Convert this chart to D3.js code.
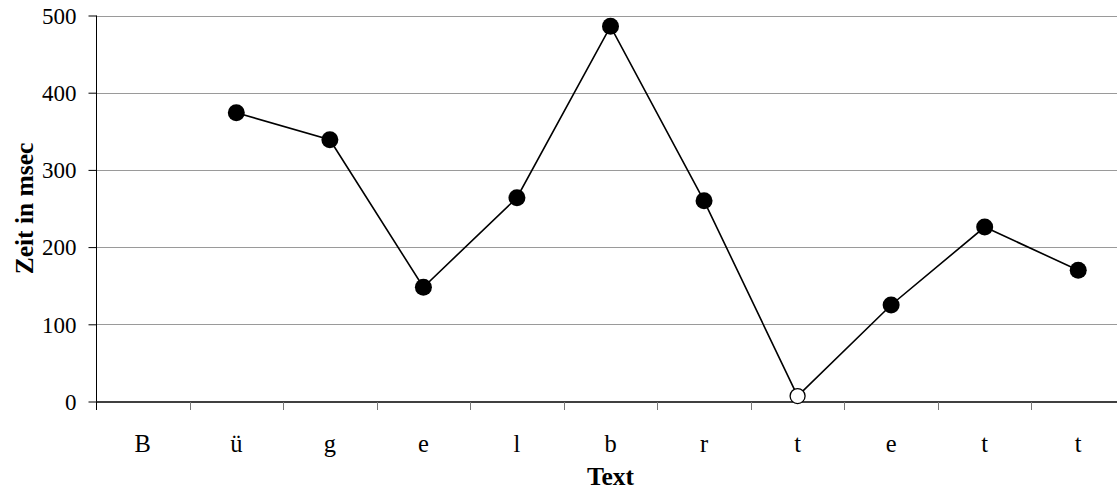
<!DOCTYPE html>
<html><head><meta charset="utf-8">
<script src="https://cdn.jsdelivr.net/npm/d3@7"></script>
<style>
html,body{margin:0;padding:0;background:#fff;overflow:hidden}
svg{display:block;font-family:"Liberation Serif","Times New Roman",serif}
</style></head>
<body>
<svg id="chart" width="1117" height="492"></svg>
<script>
const categories = ["B","ü","g","e","l","b","r","t","e","t","t"];
const values = [null,374,339,148,264,486,260,7,125,226,170];
const hollow = [false,false,false,false,false,false,false,true,false,false,false];
const yTicks = [0,100,200,300,400,500];
const xTitle = "Text";
const yTitle = "Zeit in msec";

const svg = d3.select("#chart");
const idx = d3.range(categories.length);
const x = d3.scaleBand().domain(idx).range([96,1125]);
const y = d3.scaleLinear().domain([0,500]).range([401.5,15.5]);

// gridlines
svg.append("g").selectAll("line").data(yTicks.filter(d=>d>0)).join("line")
  .attr("x1",96).attr("x2",1117)
  .attr("y1",d=>Math.round(y(d))+0.5).attr("y2",d=>Math.round(y(d))+0.5)
  .attr("stroke","#9a9a9a").attr("stroke-width",1);

// y axis
const ya = svg.append("g").attr("transform","translate(96.5,0)")
  .call(d3.axisLeft(y).tickValues(yTicks).tickSize(8).tickPadding(12).tickFormat(d3.format("d")));
ya.select(".domain").attr("stroke","#000").attr("d","M0,"+y(500)+"V"+y(0));
ya.selectAll(".tick line").attr("stroke","#000");
ya.selectAll(".tick text").attr("font-size",23).attr("font-family","Liberation Serif").attr("fill","#000").attr("dy","0.34em");

// x axis
const xa = svg.append("g").attr("transform","translate(0,"+(y(0)+0.5)+")")
  .call(d3.axisBottom(x).tickSize(0).tickPadding(50).tickFormat(i=>categories[i]));
xa.select(".domain").attr("stroke","#000").attr("stroke-width",1.5).attr("d","M96,0H1125");
xa.selectAll(".tick text").attr("font-size",24.5).attr("font-family","Liberation Serif").attr("fill","#000").attr("dy","0");
// boundary ticks
xa.append("g").selectAll("line").data(idx).join("line")
  .attr("x1",i=>Math.round(x(i))+0.5).attr("x2",i=>Math.round(x(i))+0.5)
  .attr("y1",0).attr("y2",8).attr("stroke",i=>i===0?"#000":"#777").attr("stroke-width",1);

// line
const pts = idx.filter(i=>values[i]!==null);
const line = d3.line().x(i=>x(i)+x.bandwidth()/2).y(i=>y(values[i]));
svg.append("path").datum(pts).attr("d",line).attr("fill","none").attr("stroke","#000").attr("stroke-width",1.6);

svg.append("g").selectAll("circle").data(pts).join("circle")
  .attr("cx",i=>x(i)+x.bandwidth()/2).attr("cy",i=>y(values[i]))
  .attr("r",i=>hollow[i]?7.5:8.5)
  .attr("fill",i=>hollow[i]?"#fff":"#000")
  .attr("stroke","#000").attr("stroke-width",i=>hollow[i]?1.3:0);

// titles
svg.append("text").attr("x",(96+1125)/2).attr("y",485).attr("text-anchor","middle")
  .attr("font-size",25.5).attr("font-weight","bold").text(xTitle);
svg.append("text").attr("transform","translate(33,"+((y(0)+y(500))/2)+") rotate(-90)")
  .attr("text-anchor","middle").attr("font-size",25.5).attr("font-weight","bold").text(yTitle);
</script>
</body></html>
